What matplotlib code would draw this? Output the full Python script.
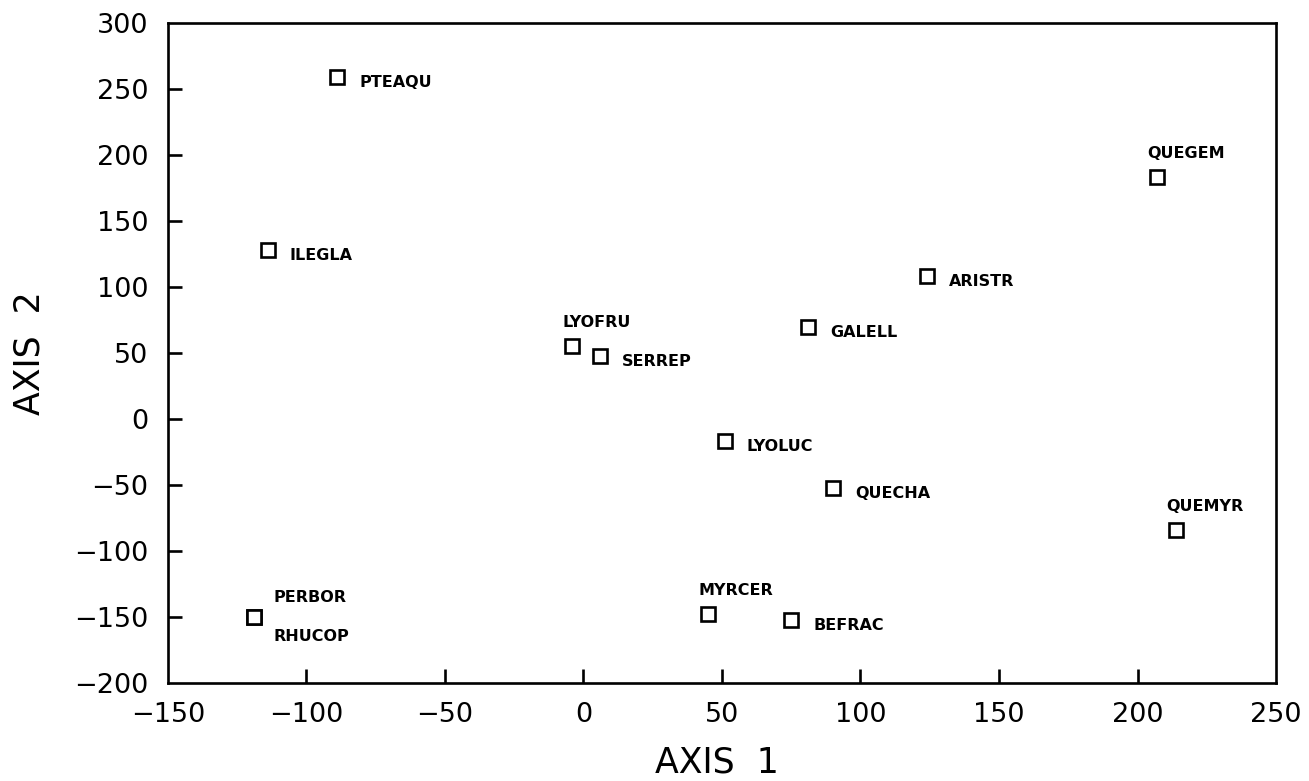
import matplotlib
matplotlib.use("Agg")
import matplotlib.pyplot as plt

# Data
species = ["PTEAQU", "ILEGLA", "PERBOR", "RHUCOP", "LYOFRU", "SERREP", "GALELL",
           "ARISTR", "LYOLUC", "QUECHA", "QUEGEM", "QUEMYR", "MYRCER", "BEFRAC"]
axis1 = [-89, -114, -119, -119, -4, 6, 81, 124, 51, 90, 207, 214, 45, 75]
axis2 = [259, 128, -150, -150, 55, 48, 70, 108, -17, -52, 183, -84, -148, -152]
label_side = ["r", "r", "ar", "br", "a", "r", "r", "r", "r", "r", "a", "a", "a", "r"]
xticks = [-150, -100, -50, 0, 50, 100, 150, 200, 250]
yticks = [-200, -150, -100, -50, 0, 50, 100, 150, 200, 250, 300]

offsets = {
    "r": ((16, -4), "left", "center"),
    "a": ((-7, 17), "left", "center"),
    "ar": ((14, 14), "left", "center"),
    "br": ((14, -14), "left", "center"),
}

fig = plt.figure(figsize=(13.09, 7.81), dpi=100)
ax = fig.add_axes([0.1283, 0.1255, 0.8465, 0.8451])

ax.plot(axis1, axis2, linestyle="none", marker="s", markersize=9.5,
        markerfacecolor="white", markeredgecolor="black", markeredgewidth=1.9)

for name, x, y, side in zip(species, axis1, axis2, label_side):
    (dx, dy), ha, va = offsets[side]
    ax.annotate(name, (x, y), xytext=(dx, dy), textcoords="offset points",
                ha=ha, va=va, fontsize=11.5, fontweight="bold",
                fontfamily="DejaVu Sans")

ax.set_xlim(-150, 250)
ax.set_ylim(-200, 300)
ax.set_xticks(xticks)
ax.set_yticks(yticks)
ax.set_xticklabels([f"{t:d}".replace("-", "\u2212") for t in xticks])
ax.set_yticklabels([f"{t:d}".replace("-", "\u2212") for t in yticks])

ax.tick_params(direction="in", length=10, width=1.9, labelsize=19.5, pad=14)
# hide ticks at the corners
for t in ax.xaxis.get_major_ticks():
    if t.get_loc() in (-150, 250):
        t.tick1line.set_visible(False)
for t in ax.yaxis.get_major_ticks():
    if t.get_loc() in (-200, 300):
        t.tick1line.set_visible(False)

for s in ax.spines.values():
    s.set_linewidth(1.9)

ax.set_xlabel("AXIS  1", fontsize=25, labelpad=12, x=0.495)
ax.set_ylabel("AXIS  2", fontsize=25, labelpad=20)

fig.savefig("out.png", dpi=100)
